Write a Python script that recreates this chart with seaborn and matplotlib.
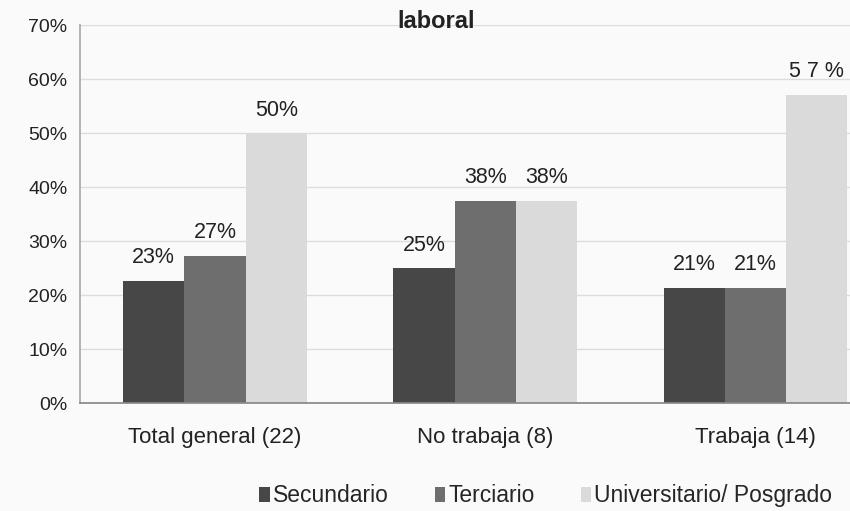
import matplotlib
matplotlib.use("Agg")
import matplotlib.pyplot as plt
import seaborn as sns
import pandas as pd
from matplotlib.ticker import FixedLocator, PercentFormatter

categories = ["Total general (22)", "No trabaja (8)", "Trabaja (14)"]
levels = ["Secundario", "Terciario", "Universitario/ Posgrado"]
secundario = [22.7, 25.0, 21.4]
terciario = [27.3, 37.5, 21.4]
universitario = [50.0, 37.5, 57.1]
value_labels = [["23%", "25%", "21%"], ["27%", "38%", "21%"], ["50%", "38%", "5 7 %"]]
yticks = [0, 10, 20, 30, 40, 50, 60, 70]

rows = []
for lvl, vals in zip(levels, [secundario, terciario, universitario]):
    for c, v in zip(categories, vals):
        rows.append({"cat": c, "nivel": lvl, "valor": v})
df = pd.DataFrame(rows)

sns.set_theme(style="white")
plt.rcParams["font.family"] = ["Liberation Sans", "DejaVu Sans"]

fig = plt.figure(figsize=(8.5, 5.11), dpi=100)
fig.patch.set_facecolor("#fafafa")
ax = fig.add_axes([0.094, 0.211, 0.906, 0.74])
ax.set_facecolor("#fafafa")

palette = {"Secundario": "#474747", "Terciario": "#6e6e6e", "Universitario/ Posgrado": "#dadada"}
sns.barplot(data=df, x="cat", y="valor", hue="nivel", hue_order=levels, order=categories,
            palette=palette, width=0.68, ax=ax, saturation=1, legend=True, linewidth=0)

for cont, labs in zip(ax.containers, value_labels):
    ax.bar_label(cont, labels=labs, padding=9, fontsize=15.5, color="#222222")

ax.set_ylim(0, 70)
ax.set_xlim(-0.5, 2.35)
ax.set_yticks(yticks)
ax.yaxis.set_major_formatter(PercentFormatter(decimals=0))
ax.grid(axis="y", color="#dcdcdc", linewidth=1)
ax.set_axisbelow(True)
ax.set_xlabel("")
ax.set_ylabel("")
ax.tick_params(axis="y", labelsize=14, colors="#222222", length=6, width=0.8, color="#999999", pad=3)
ax.tick_params(axis="x", labelsize=16, colors="#222222", length=0, pad=17)
ax.xaxis.set_minor_locator(FixedLocator([0.5, 1.5]))
ax.tick_params(axis="x", which="minor", length=5, color="#aaaaaa", direction="out")
for s in ["top", "right"]:
    ax.spines[s].set_visible(False)
ax.spines["left"].set_color("#aaaaaa")
ax.spines["bottom"].set_color("#888888")

ax.set_title("laboral", fontsize=17, color="#222222", pad=-2, x=0.463, fontweight="semibold")

handles, labels = ax.get_legend_handles_labels()
ax.legend(handles, labels, loc="lower center", bbox_to_anchor=(0.605, -0.33), ncol=3,
          frameon=False, fontsize=16.5, handlelength=0.45, handleheight=0.6, handletextpad=0.15,
          columnspacing=2.0)

fig.savefig("out.png", dpi=100, facecolor=fig.get_facecolor())
